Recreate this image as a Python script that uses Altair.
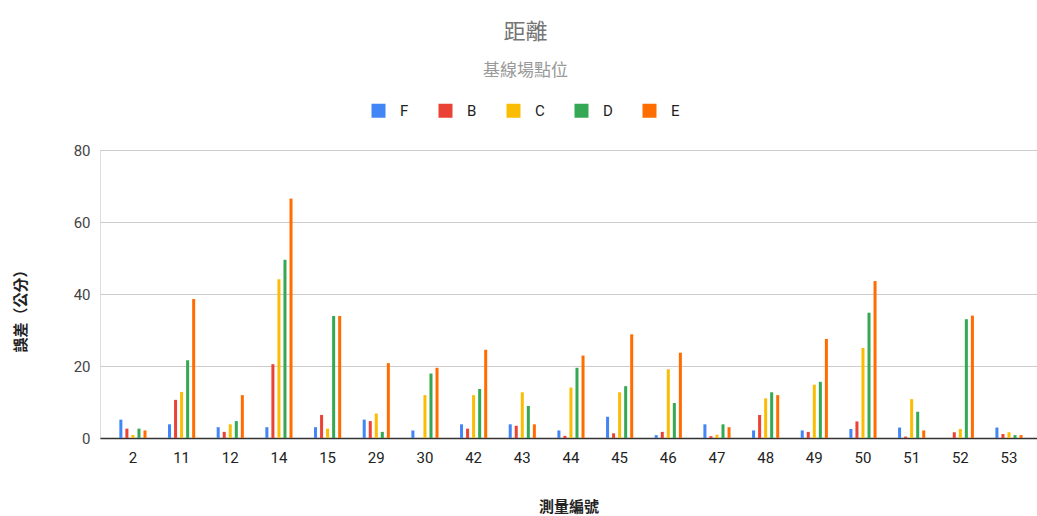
import altair as alt
import pandas as pd

categories = ["2", "11", "12", "14", "15", "29", "30", "42", "43", "44",
              "45", "46", "47", "48", "49", "50", "51", "52", "53"]
series = ["F", "B", "C", "D", "E"]
colors = ["#4285F4", "#EA4335", "#FBBC04", "#34A853", "#FF6D01"]

F_vals = [5.1, 3.8, 3.0, 3.0, 3.0, 5.1, 2.1, 3.8, 3.8, 2.1, 5.9, 0.8, 3.8, 2.1, 2.1, 2.5, 2.9, 0.0, 2.9]
B_vals = [2.6, 10.6, 1.7, 20.5, 6.4, 4.7, 0.0, 2.6, 3.4, 0.6, 1.3, 1.7, 0.5, 6.4, 1.7, 4.6, 0.4, 1.6, 1.1]
C_vals = [0.8, 12.8, 3.8, 44.1, 2.6, 6.8, 11.9, 11.9, 12.7, 14.0, 12.7, 19.1, 0.9, 11.0, 14.8, 25.0, 10.8, 2.5, 1.6]
D_vals = [2.6, 21.6, 4.7, 49.5, 33.9, 1.7, 17.9, 13.6, 8.9, 19.5, 14.4, 9.7, 3.8, 12.7, 15.6, 34.8, 7.3, 33.0, 0.8]
E_vals = [2.1, 38.6, 11.9, 66.5, 33.9, 20.8, 19.5, 24.5, 3.8, 22.9, 28.8, 23.7, 3.0, 11.9, 27.5, 43.6, 2.1, 34.0, 0.8]

rows = []
for s, vals in zip(series, [F_vals, B_vals, C_vals, D_vals, E_vals]):
    for c, v in zip(categories, vals):
        rows.append({"id": c, "series": s, "value": v})
df = pd.DataFrame(rows)

FONT = "Roboto, 'Noto Sans CJK TC', sans-serif"

chart = alt.Chart(df).mark_bar().encode(
    x=alt.X("id:N", sort=categories,
            scale=alt.Scale(paddingInner=0.38, paddingOuter=0.316, align=0.58),
            axis=alt.Axis(title="測量編號", labelAngle=0, ticks=False, tickSize=0,
                          labelPadding=12, domainColor="#333333", domainWidth=1.5,
                          grid=False, labelFontSize=15, labelColor="#222222",
                          labelFont=FONT, titleFont=FONT,
                          titleFontSize=15, titleFontWeight="bold", titleColor="#222222",
                          titleY=68, titleBaseline="middle")),
    xOffset=alt.XOffset("series:N", sort=series,
                        scale=alt.Scale(paddingInner=0.5, paddingOuter=0.25)),
    y=alt.Y("value:Q", scale=alt.Scale(domain=[0, 80]),
            axis=alt.Axis(values=[0, 20, 40, 60, 80], title="誤差（公分）",
                          domain=False, ticks=False, tickSize=0, labelPadding=10,
                          gridColor="#cccccc", gridWidth=1,
                          labelFontSize=15, labelColor="#444444", labelFont=FONT,
                          titleFont=FONT, titleFontSize=15, titleFontWeight="bold",
                          titleColor="#222222", titleX=-80, titleY=157,
                          titleAlign="center", titleBaseline="middle", titleAngle=-90)),
    color=alt.Color("series:N", sort=series,
                    scale=alt.Scale(domain=series, range=colors),
                    legend=alt.Legend(title=None, orient="none", legendX=271, legendY=-47,
                                      direction="horizontal", columns=5,
                                      symbolType="square", symbolSize=196,
                                      symbolStrokeWidth=0, labelOffset=14,
                                      columnPadding=29, labelFontSize=15,
                                      labelColor="#222222", labelFont=FONT)),
).properties(
    width=937,
    height=288,
    padding={"left": 100, "top": 150, "right": 0, "bottom": 78},
    autosize="none",
    title=alt.TitleParams(text="距離", subtitle="基線場點位", anchor="middle", dx=-43,
                          font=FONT, fontSize=22, fontWeight="normal", color="#757575",
                          subtitleFont=FONT, subtitleFontSize=17, subtitleColor="#999999",
                          subtitlePadding=19, offset=23),
).configure_view(stroke=None).configure(background="white")

chart.save("out.html", embed_options={"renderer": "svg", "actions": False})
